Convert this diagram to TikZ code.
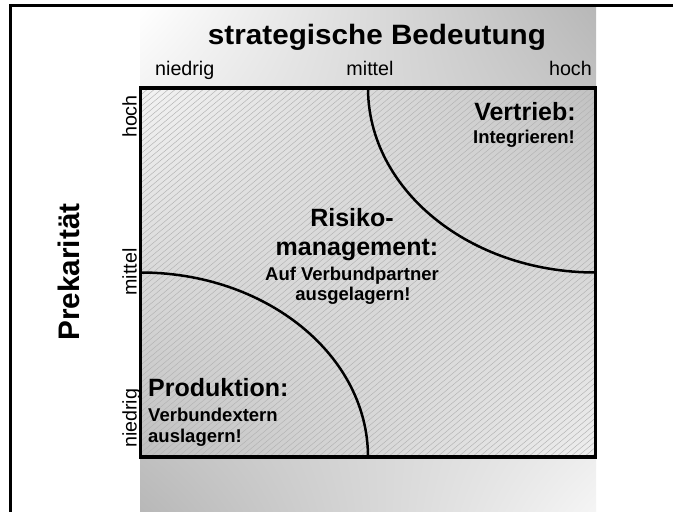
\documentclass[tikz,border=0pt]{standalone}
\usepackage{fontspec}
\setmainfont{Liberation Sans}
\pgfdeclarefunctionalshading{backdrop}{\pgfpoint{0bp}{0bp}}{\pgfpoint{100bp}{100bp}}{}{%
  25 sub 50 div exch 25 sub 50 div
  2 copy mul -0.52 mul
  exch 0.24 mul add
  exch 0.28 mul add
  0.72 add
  dup dup}
\begin{document}
\begin{tikzpicture}[x=1pt,y=1pt,
  frameline/.style={line width=3pt,black},
  boxline/.style={line width=3.5pt,black,line join=miter},
  divider/.style={line width=2.5pt,black},
  hatchline/.style={black!30,line width=0.45pt},
  title/.style={font=\bfseries\fontsize{28}{34}\selectfont,inner sep=0pt,xscale=1.06},
  bigtitle/.style={font=\bfseries\fontsize{29.7}{34}\selectfont,inner sep=0pt},
  axlabel/.style={font=\fontsize{19.7}{23}\selectfont,inner sep=0pt},
  head/.style={font=\bfseries\fontsize{25}{30}\selectfont,inner sep=0pt},
  sub/.style={font=\bfseries\fontsize{18.5}{22}\selectfont,inner sep=0pt}]
\useasboundingbox (0,0) rectangle (673,512);
\fill[white] (0,0) rectangle (673,512);
% gradient backdrop
\shade[shading=backdrop] (140,0) rectangle (596,504);
% corners of the grid
\coordinate (bl) at (140.5,55);
\coordinate (tr) at (595.5,424);
\coordinate (tm) at (368,424);
\coordinate (lm) at (140.5,239.5);
% hatching
\begin{scope}
  \clip (bl) rectangle (tr);
  \foreach \k in {-480,-473,...,470} \draw[hatchline] (140+\k,55) -- ++(440,369);
\end{scope}
% dividing arcs
\draw[divider] (tm) arc[start angle=180,end angle=270,x radius=227.5,y radius=184.5];
\draw[divider] (lm) arc[start angle=90,end angle=0,x radius=227.5,y radius=184.5];
\draw[boxline] (bl) rectangle (tr);
% outer frame
\draw[frameline] (10,0) -- (10,506) -- (673,506);
% titles
\node[title,anchor=base] (t1) at (377,467.5) {strategische Bedeutung};
\node[bigtitle,anchor=base,rotate=90] (t2) at (79.5,240) {Prekarität};
% axis labels
\node[axlabel,anchor=base west] (xn) at (155,436) {niedrig};
\node[axlabel,anchor=base] (xm) at (370,436) {mittel};
\node[axlabel,anchor=base east] (xh) at (592,436) {hoch};
\node[axlabel,anchor=base east,rotate=90] (yh) at (136.5,417) {hoch};
\node[axlabel,anchor=base,rotate=90] (ym) at (136.5,240) {mittel};
\node[axlabel,anchor=base west,rotate=90] (yn) at (136.5,64) {niedrig};
% field texts
\node[head,anchor=base] (v1) at (525,391) {Vertrieb:};
\node[sub,anchor=base] (v2) at (524,368) {Integrieren!};
\node[head,anchor=base] (r1) at (352,285) {Risiko-};
\node[head,anchor=base] (r2) at (357,256) {management:};
\node[sub,anchor=base] (r3) at (352,231) {Auf Verbundpartner};
\node[sub,anchor=base] (r4) at (353,211) {ausgelagern!};
\node[head,anchor=base west] (p1) at (148,115) {Produktion:};
\node[sub,anchor=base west] (p2) at (148,90) {Verbundextern};
\node[sub,anchor=base west] (p3) at (148,69) {auslagern!};
\end{tikzpicture}
\end{document}
